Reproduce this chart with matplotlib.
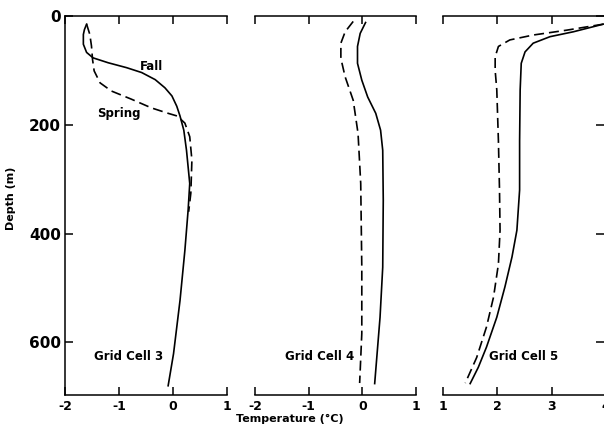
import matplotlib
matplotlib.use('Agg')
import matplotlib.pyplot as plt

plt.rcParams['font.family'] = ['DejaVu Sans']
plt.rcParams['font.weight'] = 'bold'
plt.rcParams['axes.unicode_minus'] = False

# Grid Cell 3
fall3_d = [15, 25, 34, 52, 67, 77, 86, 95, 104, 117, 132, 147, 166, 184, 210, 247, 308, 357, 431, 523, 621, 680]
fall3_t = [-1.60, -1.64, -1.66, -1.66, -1.60, -1.48, -1.20, -0.86, -0.58, -0.33, -0.15, -0.02, 0.07, 0.13, 0.20, 0.25, 0.31, 0.28, 0.22, 0.13, 0.01, -0.09]
spring3_d = [15, 34, 55, 80, 101, 123, 138, 153, 169, 179, 184, 197, 222, 265, 326, 360]
spring3_t = [-1.60, -1.54, -1.51, -1.49, -1.46, -1.35, -1.14, -0.77, -0.40, -0.09, 0.08, 0.22, 0.31, 0.35, 0.33, 0.29]

# Grid Cell 4
fall4_d = [12, 32, 56, 87, 118, 149, 179, 210, 247, 339, 462, 554, 676]
fall4_t = [0.06, -0.04, -0.09, -0.09, -0.01, 0.10, 0.25, 0.34, 0.38, 0.39, 0.38, 0.33, 0.23]
spring4_d = [10, 29, 50, 78, 112, 155, 216, 308, 462, 584, 675]
spring4_t = [-0.17, -0.32, -0.40, -0.40, -0.32, -0.17, -0.08, -0.03, -0.01, -0.01, -0.05]

# Grid Cell 5
fall5_d = [15, 29, 38, 50, 66, 87, 136, 230, 320, 394, 443, 498, 554, 609, 646, 676]
fall5_t = [3.95, 3.40, 2.97, 2.66, 2.51, 2.44, 2.42, 2.41, 2.41, 2.36, 2.27, 2.14, 1.99, 1.80, 1.65, 1.50]
spring5_d = [15, 26, 35, 44, 56, 75, 100, 136, 230, 320, 394, 456, 517, 572, 628, 675]
spring5_t = [3.95, 3.28, 2.66, 2.23, 2.02, 1.96, 1.96, 1.99, 2.02, 2.04, 2.05, 2.02, 1.93, 1.80, 1.62, 1.41]

depth_ticks = [0, 200, 400, 600]
xticks_a = [-2, -1, 0, 1]
xticks_b = [1, 2, 3, 4]
xlabels_a = ['-2', '-1', '0', '1']
xlabels_b = ['1', '2', '3', '4']

W, H = 604, 428
fig = plt.figure(figsize=(W / 100, H / 100), dpi=100)

bottom = 1 - 395 / H
height = (395 - 16) / H
ax1 = fig.add_axes([65 / W, bottom, 162 / W, height])
ax2 = fig.add_axes([255 / W, bottom, 161 / W, height])
ax3 = fig.add_axes([443 / W, bottom, 163 / W, height])

dash = (6, 3)
ax1.plot(fall3_t, fall3_d, color='k', lw=1.2)
ax1.plot(spring3_t, spring3_d, color='k', lw=1.2, dashes=dash)
ax2.plot(fall4_t, fall4_d, color='k', lw=1.2)
ax2.plot(spring4_t, spring4_d, color='k', lw=1.2, dashes=dash)
ax3.plot(fall5_t, fall5_d, color='k', lw=1.2)
ax3.plot(spring5_t, spring5_d, color='k', lw=1.2, dashes=dash)

for ax, ticks, labels in [(ax1, xticks_a, xlabels_a), (ax2, xticks_a, xlabels_a), (ax3, xticks_b, xlabels_b)]:
    ax.set_xlim(ticks[0], ticks[-1])
    ax.set_ylim(697, 0)
    ax.set_xticks(ticks)
    ax.set_xticklabels(labels, fontsize=9, fontweight='bold')
    ax.set_yticks(depth_ticks)
    ax.tick_params(axis='both', direction='in', length=6, width=1.1,
                   top=True, bottom=True, left=False, right=False,
                   labelleft=False, pad=3.5)
    for s in ['top', 'bottom', 'left', 'right']:
        ax.spines[s].set_linewidth(1.1)
    ax.spines['left'].set_visible(False)
    ax.spines['right'].set_visible(False)

ax1.spines['left'].set_visible(True)
ax1.tick_params(axis='y', left=True, labelleft=True, pad=3)
ax1.set_yticklabels([str(v) for v in depth_ticks], fontsize=11, fontweight='bold')
ax1.set_ylabel('Depth (m)', fontsize=8, fontweight='bold')
ax1.yaxis.set_label_coords(-0.30, 0.52)

ax3.tick_params(axis='y', right=True, length=7)

ax1.text(-0.39, 92, 'Fall', fontsize=8.5, ha='center', va='center')
ax1.text(-1.01, 179, 'Spring', fontsize=8.5, ha='center', va='center')
ax1.text(-0.815, 626, 'Grid Cell 3', fontsize=8.5, ha='center', va='center')
ax2.text(-0.79, 626, 'Grid Cell 4', fontsize=8.5, ha='center', va='center')
ax3.text(2.49, 626, 'Grid Cell 5', fontsize=8.5, ha='center', va='center')

fig.text(290 / W, 1 - 419 / H, 'Temperature (\u00b0C)', fontsize=8, fontweight='bold',
         ha='center', va='center')

fig.savefig('out.png', dpi=100)
